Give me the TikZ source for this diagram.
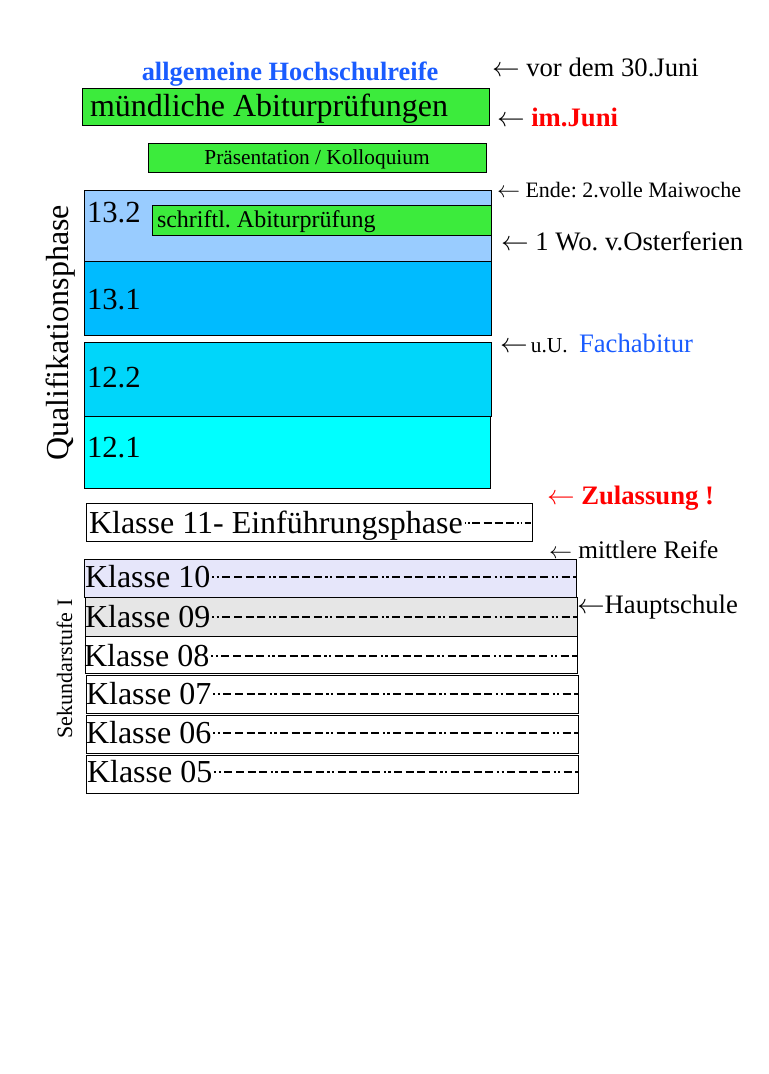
\documentclass[tikz,border=0pt]{standalone}
\usepackage{fontspec}
\setmainfont{Liberation Serif}
\usetikzlibrary{fit}
\definecolor{grn}{RGB}{60,235,60}
\definecolor{qa}{RGB}{153,204,255}
\definecolor{qb}{RGB}{0,187,255}
\definecolor{qc}{RGB}{0,214,250}
\definecolor{qd}{RGB}{0,255,255}
\definecolor{kten}{RGB}{230,230,250}
\definecolor{knine}{RGB}{230,230,230}
\definecolor{tblue}{RGB}{26,92,255}
\definecolor{tred}{RGB}{255,0,0}
\newcommand\fsz[1]{\fontsize{#1}{#1}\selectfont}
\newcommand\larr{\ensuremath{\leftarrow}}
\frenchspacing
\begin{document}
\begin{tikzpicture}[x=0.75pt,y=-0.75pt,
  box/.style={draw=black, line width=0.6pt, inner sep=0pt, outer sep=0pt},
  txt/.style={anchor=base west, inner sep=0pt, outer sep=0pt},
  ctxt/.style={anchor=base, inner sep=0pt, outer sep=0pt},
  leader/.style={line width=1.3pt, dash pattern=on 1.6pt off 1.8pt on 1.6pt off 2.6pt on 6pt off 2.7pt on 6pt off 2.7pt on 6pt off 2.7pt on 6pt off 2.7pt},
  thickleader/.style={line width=2.2pt, dash pattern=on 1.2pt off 1.4pt on 1.2pt off 1.8pt on 6pt off 2.4pt on 6pt off 2.4pt on 6pt off 2.4pt on 6pt off 2.4pt}]
\useasboundingbox (0,0) rectangle (768,1074);

% top
\node[ctxt, font=\fsz{19.8pt}\bfseries, text=tblue] (ahr) at (290,80) {allgemeine Hochschulreife};
\node[txt, font=\fsz{20pt}] (vor) at (492,77) {\larr{} vor dem 30.Juni};

\node[box, fill=grn, fit={(82,88) (489,125)}] (mund) {};
\node[txt, font=\fsz{24pt}] (mundt) at (90,117) {mündliche Abiturprüfungen};
\node[txt, font=\fsz{20pt}] (juni) at (497,126) {\larr{} {\color{tred}\bfseries im.Juni}};

\node[box, fill=grn, fit={(148,143) (486,172)}] (praes) {};
\node[ctxt, font=\fsz{16pt}] (praest) at (317,164) {Präsentation / Kolloquium};

% Qualifikationsphase
\node[box, fill=qa, fit={(84,190) (491,261)}] (q132) {};
\node[txt, font=\fsz{23pt}] (q132t) at (87,222) {13.2};
\node[box, fill=grn, fit={(152,205) (491,235)}] (schr) {};
\node[txt, font=\fsz{18pt}] (schrt) at (157,227) {schriftl. Abiturprüfung};
\node[txt, font=\fsz{16.5pt}] (ende) at (497,197) {\larr{} Ende: 2.volle Maiwoche};
\node[txt, font=\fsz{20pt}] (oster) at (501,250) {\larr{} 1 Wo. v.Osterferien};

\node[box, fill=qb, fit={(84,261) (491,335)}] (q131) {};
\node[txt, font=\fsz{23pt}] (q131t) at (87,309) {13.1};
\node[box, fill=qc, fit={(84,342) (491,416)}] (q122) {};
\node[txt, font=\fsz{23pt}] (q122t) at (87,387) {12.2};
\node[box, fill=qd, fit={(84,416) (490,488)}] (q121) {};
\node[txt, font=\fsz{23pt}] (q121t) at (87,457) {12.1};

\node[txt] (uu) at (500,352) {{\fsz{20pt}\larr} {\fsz{16pt}u.U.}};
\node[txt, font=\fsz{20pt}, text=tblue] (fach) at (579,352) {Fachabitur};

\node[ctxt, rotate=90, font=\fsz{24pt}] (quali) at (68,333) {Qualifikationsphase};

% Zulassung / Klasse 11
\node[txt, font=\fsz{20pt}, text=tred] (zul) at (547,504) {\larr{} {\bfseries Zulassung !}};
\node[box, fill=white, fit={(86,503) (532,541)}] (k11) {};
\node[txt, font=\fsz{24pt}] (k11t) at (89,533) {Klasse 11- Einführungsphase};
\coordinate (k11s) at ([xshift=1.5pt,yshift=7.5pt]k11t.base east);
\draw[thickleader] (k11s) -- ([xshift=-1pt]k11s -| k11.east);

\node[txt, font=\fsz{19pt}] (mr) at (549,558) {\larr{} mittlere Reife};

% Sekundarstufe I
\node[box, fill=kten, fit={(84,559) (576,597)}] (k10) {};
\node[txt, font=\fsz{24pt}] (k10t) at (85,587) {Klasse 10};
\node[box, fill=knine, fit={(85,597) (577,636)}] (k09) {};
\node[txt, font=\fsz{24pt}] (k09t) at (85,627) {Klasse 09};
\node[box, fill=white, fit={(85,636) (577,673)}] (k08) {};
\node[txt, font=\fsz{24pt}] (k08t) at (84,666) {Klasse 08};
\node[box, fill=white, fit={(86,675) (578,713)}] (k07) {};
\node[txt, font=\fsz{24pt}] (k07t) at (86,704) {Klasse 07};
\node[box, fill=white, fit={(86,715) (578,753)}] (k06) {};
\node[txt, font=\fsz{24pt}] (k06t) at (86,743) {Klasse 06};
\node[box, fill=white, fit={(86,755) (578,793)}] (k05) {};
\node[txt, font=\fsz{24pt}] (k05t) at (87,782) {Klasse 05};

\foreach \k in {k10,k09,k08,k07,k06,k05}{
  \coordinate (\k s) at ([xshift=1.5pt,yshift=7.5pt]\k t.base east);
  \draw[leader] (\k s) -- (\k s -| \k.east);
}

\node[txt, font=\fsz{20pt}] (haupt) at (577,613) {\larr{}Hauptschule};
\node[ctxt, rotate=90, font=\fsz{16.5pt}] (sek) at (72,669) {Sekundarstufe I};
\end{tikzpicture}
\end{document}
